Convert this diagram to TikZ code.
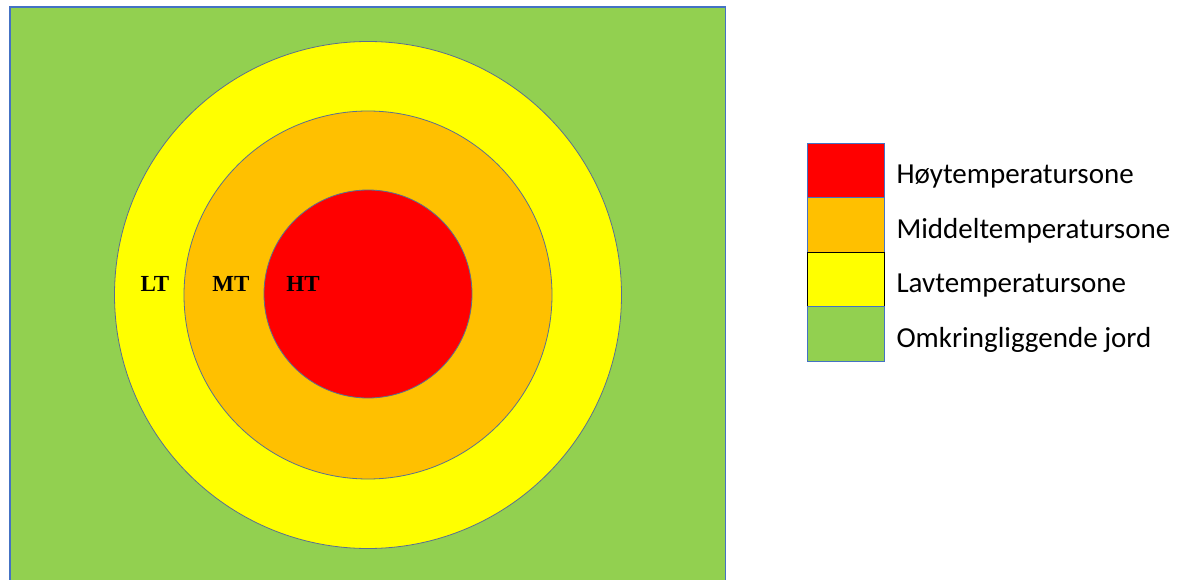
\documentclass[tikz,border=0pt]{standalone}
\usepackage{fontspec}
\setmainfont{Carlito}
\newfontfamily\labelfont{Liberation Serif}
\usetikzlibrary{positioning}

\definecolor{jordgreen}{HTML}{92D050}
\definecolor{lavyellow}{HTML}{FFFF00}
\definecolor{middelorange}{HTML}{FFC000}
\definecolor{hoyred}{HTML}{FF0000}
\definecolor{edgeblue}{HTML}{4472C4}
\definecolor{ringedge}{HTML}{5A7090}

\tikzset{
    zone/.style={circle, draw=ringedge, line width=0.8pt, inner sep=0pt},
    zonelabel/.style={font=\labelfont\bfseries\fontsize{23}{23}\selectfont},
    legendbox/.style={draw=edgeblue, line width=0.8pt, minimum width=77pt,
        minimum height=54.5pt, inner sep=0pt, outer sep=0pt},
    legendtext/.style={right=9pt, yshift=-6pt, font=\fontsize{29}{29}\selectfont}
}

\begin{document}
\begin{tikzpicture}[x=1pt, y=-1pt]
    \useasboundingbox (0,0) rectangle (1181,580);
    \begin{scope}
    \clip (0,0) rectangle (1181,580);

    % omkringliggende jord
    \draw[fill=jordgreen, draw=edgeblue, line width=1.2pt] (10,7) rectangle (725.5,590);

    % soner
    \node[zone, fill=lavyellow, minimum size=507pt] (lt) at (368,295) {};
    \node[zone, fill=middelorange, minimum size=368pt] (mt) at (368,295) {};
    \node[zone, fill=hoyred, minimum size=208pt] (ht) at (368,294) {};
    \end{scope}

    \node[zonelabel] (ltlab) at (155,284) {LT};
    \node[zonelabel] (mtlab) at (231,284) {MT};
    \node[zonelabel] (htlab) at (303,284) {HT};

    % tegnforklaring
    \node[legendbox, fill=hoyred] (boxht) at (845.5,170.5) {};
    \node[legendbox, fill=middelorange, below=0pt of boxht] (boxmt) {};
    \node[legendbox, fill=lavyellow, draw=black, below=0pt of boxmt] (boxlt) {};
    \node[legendbox, fill=jordgreen, below=0pt of boxlt] (boxjord) {};

    \node[legendtext] at (boxht.east) {Høytemperatursone};
    \node[legendtext] at (boxmt.east) {Middeltemperatursone};
    \node[legendtext] at (boxlt.east) {Lavtemperatursone};
    \node[legendtext] at (boxjord.east) {Omkringliggende jord};
\end{tikzpicture}
\end{document}
